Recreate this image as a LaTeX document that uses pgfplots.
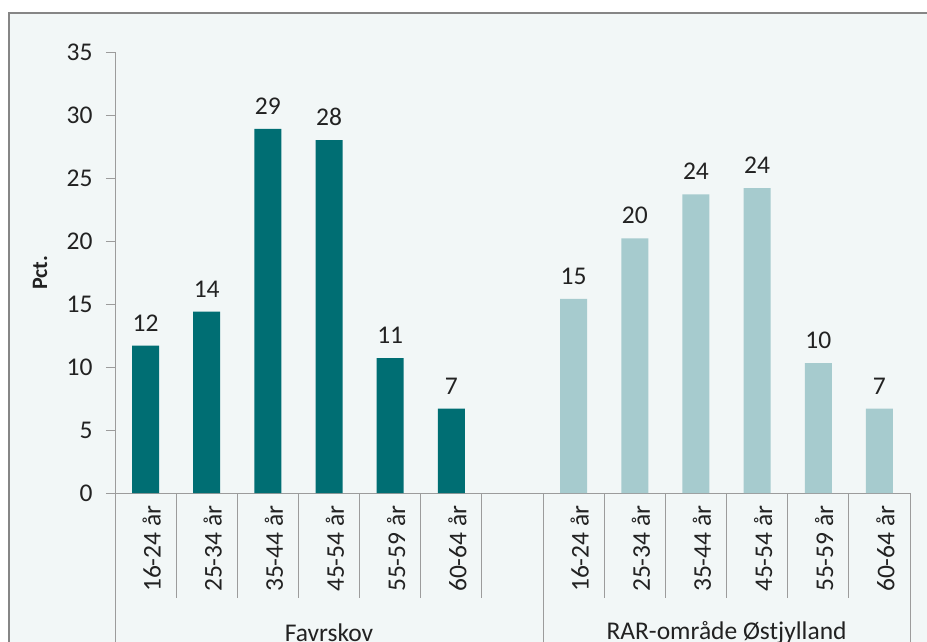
\documentclass[border=0pt]{standalone}
\usepackage{fontspec}
\setmainfont{Carlito}
\usepackage{pgfplots}
\pgfplotsset{compat=1.18}
\definecolor{favr}{HTML}{006E73}
\definecolor{rar}{HTML}{A6CBCE}
\definecolor{bg}{HTML}{F2F7F7}
\definecolor{framegray}{HTML}{868686}
\definecolor{axgray}{HTML}{9C9C9C}
\definecolor{txt}{HTML}{222222}
\newcommand\lf{\fontsize{25.5}{30}\selectfont}

\begin{document}
\begin{tikzpicture}[x=1pt,y=1pt]
\useasboundingbox (0,0) rectangle (927,641);
\clip (0,0) rectangle (927,641);
% panel background and frame (cut at right and bottom)
\fill[bg] (9,-20) rectangle (960,628);
\draw[framegray, line width=2.5pt] (9,-20) -- (9,628) -- (960,628);
\begin{axis}[
  at={(115pt,148pt)}, anchor=south west,
  scale only axis, width=795pt, height=441pt,
  xmin=-0.5, xmax=12.5, ymin=0, ymax=35,
  axis x line*=bottom, axis y line*=left,
  axis line style={axgray, line width=1pt, -},
  clip=false,
  /pgf/number format/assume math mode=true,
  ytick={0,5,...,35},
  tick align=outside, major tick length=9pt,
  major y tick style={axgray, line width=1pt},
  major x tick style={draw=none},
  y tick label style={txt, font=\lf, xshift=-10pt},
  xtick={0,1,2,3,4,5,7,8,9,10,11,12},
  xticklabels={16-24 år,25-34 år,35-44 år,45-54 år,55-59 år,60-64 år,
               16-24 år,25-34 år,35-44 år,45-54 år,55-59 år,60-64 år},
  x tick label style={txt, font=\lf, rotate=90, anchor=east, yshift=-6pt},
  ylabel={\textbf{Pct.}},
  ylabel style={font=\fontsize{22}{26}\selectfont, txt,
    at={(axis description cs:-0.0943,0.5)}, anchor=center},
  ybar, bar width=27pt, bar shift=0pt,
  nodes near coords,
  nodes near coords style={txt, font=\lf, yshift=11pt,
    /pgf/number format/.cd, fixed, precision=0},
]
\addplot[fill=favr, draw=none] coordinates {(0,11.7) (1,14.4) (2,28.9) (3,28.0) (4,10.7) (5,6.7)};
\addplot[fill=rar, draw=none] coordinates {(7,15.4) (8,20.2) (9,23.7) (10,24.2) (11,10.3) (12,6.7)};
% category separators and group lines
\pgfplotsinvokeforeach{0.5,1.5,2.5,3.5,4.5,5.5,7.5,8.5,9.5,10.5,11.5}{
  \draw[axgray, line width=1pt] (axis cs:#1,0) -- (axis cs:#1,-8.33);
}
\pgfplotsinvokeforeach{-0.5,6.5,12.5}{
  \draw[axgray, line width=1pt] (axis cs:#1,0) -- (axis cs:#1,-16);
}
\node[txt, font=\lf] at (axis cs:3,-11.1) {Favrskov};
\node[txt, font=\lf] at (axis cs:9.5,-11.1) {RAR-område Østjylland};
\end{axis}
\end{tikzpicture}
\end{document}
